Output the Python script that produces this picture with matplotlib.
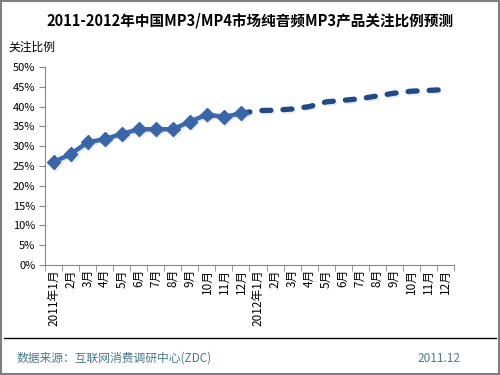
import numpy as np
import matplotlib.pyplot as plt
import matplotlib as mpl
import matplotlib.patheffects as pe

mpl.rcParams["font.family"] = ["Noto Sans CJK SC", "DejaVu Sans"]

# ---------------------------------------------------------------------------
# Data
# ---------------------------------------------------------------------------
months = ["2011年1月"] + [f"{m}月" for m in range(2, 13)] + \
         ["2012年1月"] + [f"{m}月" for m in range(2, 13)]
actual_2011 = [26.0, 28.0, 31.0, 31.8, 33.1, 34.3, 34.3, 34.3, 36.2, 38.0, 37.4, 38.3]
forecast_2012 = [39.0, 39.1, 39.4, 40.0, 41.2, 41.6, 42.0, 42.7, 43.4, 43.9, 44.1, 44.3]
y_ticks = [0, 5, 10, 15, 20, 25, 30, 35, 40, 45, 50]

# ---------------------------------------------------------------------------
# Plot
# ---------------------------------------------------------------------------
fig = plt.figure(figsize=(5, 3.75), dpi=100)
ax = fig.add_axes([0.09, 0.2933, 0.818, 0.528])

x_act = np.arange(len(actual_2011))
x_fc = np.arange(len(actual_2011) - 1, len(months))
y_fc = [actual_2011[-1]] + forecast_2012

shadow = [pe.SimpleLineShadow(offset=(1, -1.2), shadow_color="#808080", alpha=0.18),
          pe.Normal()]
ax.plot(x_fc, y_fc, color="#1f4a85", lw=3.8, ls=(0, (1.7, 2.3)),
        dash_capstyle="round", solid_capstyle="round", zorder=2,
        path_effects=shadow)
ax.plot(x_act, actual_2011, color="#3a6aad", lw=3.2, marker="D", ms=7,
        mfc="#3866a8", mec="#3866a8", zorder=3, path_effects=shadow)

ax.set_xlim(-0.5, len(months) - 0.5)
ax.set_ylim(0, 50)
ax.set_yticks(y_ticks)
ax.set_yticklabels([f"{v}%" for v in y_ticks])
ax.set_xticks(np.arange(len(months)))
ax.set_xticklabels(months, rotation=90, va="top", ha="center")
ax.set_xticks(np.arange(-0.5, len(months)), minor=True)

ax.tick_params(axis="x", which="major", length=0, labelsize=8.5, pad=3)
ax.tick_params(axis="x", which="minor", length=4, color="#868686")
ax.tick_params(axis="y", length=4, color="#868686", labelsize=8, pad=3)

for side in ["top", "right"]:
    ax.spines[side].set_visible(False)
for side in ["left", "bottom"]:
    ax.spines[side].set_color("#868686")

# ---------------------------------------------------------------------------
# Texts and frame
# ---------------------------------------------------------------------------
fig.text(0.5, 0.945, "2011-2012年中国MP3/MP4市场纯音频MP3产品关注比例预测",
         ha="center", va="center", fontsize=10.5, fontweight="bold")
fig.text(0.016, 0.875, "关注比例", ha="left", va="center", fontsize=8.5)
fig.text(0.034, 0.045, "数据来源：互联网消费调研中心(ZDC)", ha="left", va="center",
         fontsize=8.5, color="#4a7a8a")
fig.text(0.92, 0.045, "2011.12", ha="right", va="center", fontsize=8.5, color="#4a7a8a")

fig.add_artist(plt.Line2D([0.008, 0.992], [0.099, 0.099], color="black", lw=1))
fig.add_artist(plt.Rectangle((0.002, 0.003), 0.996, 0.994, fill=False,
                             edgecolor="#7f7f7f", lw=1.5))

fig.savefig("out.png", dpi=100)
plt.close(fig)
